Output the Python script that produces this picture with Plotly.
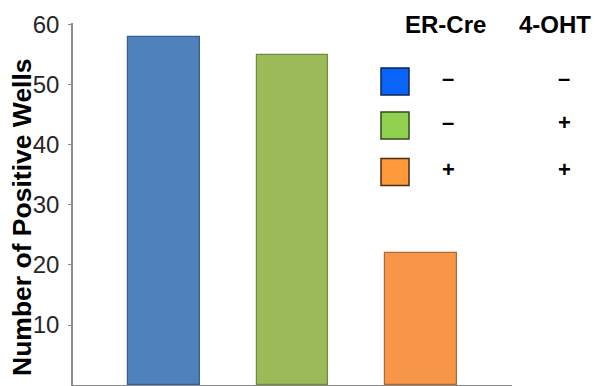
import plotly.graph_objects as go

# Wells scored positive per condition
conditions = [0, 1, 2]
wells = [58, 55, 22]
er_cre = ["–", "–", "+"]
oht = ["–", "+", "+"]

bar_fill = ["#4F81BD", "#9BBB59", "#F79646"]
bar_edge = ["#3A5F8C", "#6F8A3C", "#A86A38"]
key_fill = ["#0A64FA", "#92D050", "#FF9A3A"]
key_edge = ["#10254F", "#2E4A1E", "#4A2A14"]

y_ticks = [10, 20, 30, 40, 50, 60]
y_title = "Number of Positive Wells"

W, H = 595, 386
L, R, T, B = 73, 83, 23, 1
pw, ph = W - L - R, H - T - B

fig = go.Figure()
fig.add_trace(go.Bar(
    x=conditions, y=wells, width=0.56,
    marker=dict(color=bar_fill, line=dict(color=bar_edge, width=1.2)),
    showlegend=False,
))

fig.update_layout(
    width=W, height=H,
    margin=dict(l=L, r=R, t=T, b=B, autoexpand=False),
    paper_bgcolor="white", plot_bgcolor="white",
    bargap=0,
    xaxis=dict(range=[-0.708, 2.708], showticklabels=False, ticks="",
               showgrid=False, zeroline=False, showline=True,
               linecolor="#8C8C8C", linewidth=1.5),
    yaxis=dict(range=[0, 60.33], tickvals=y_ticks, ticks="outside", ticklen=3,
               tickcolor="#8C8C8C", showgrid=False, zeroline=False,
               showline=True, linecolor="#8C8C8C", linewidth=1.5,
               tickfont=dict(family="Liberation Sans, Arial", size=24, color="#262626"),
               ticklabelstandoff=4, automargin=False),
)


# Paper coordinates from pixel positions in the canvas
def px(xp):
    return (xp - L) / pw


def py(yp):
    return (H - B - yp) / ph


def label(xp, yp, text, size, angle=0):
    fig.add_annotation(x=px(xp), y=py(yp), xref="paper", yref="paper",
                       xanchor="center", yanchor="middle", text=text,
                       textangle=angle, showarrow=False,
                       font=dict(family="Liberation Sans, Arial", size=size, color="#000000"))


# Rotated y-axis title
label(22, 217, "<b>%s</b>" % y_title, 26.5, angle=-90)

# Condition key: header row, then one swatch with its +/- signs per bar
label(445, 25, "<b>ER-Cre</b>", 24)
label(555, 25, "<b>4-OHT</b>", 24)

key_rows_y = [81.5, 125.5, 172]
for i, yc in enumerate(key_rows_y):
    fig.add_shape(type="rect", xref="paper", yref="paper",
                  x0=px(381), x1=px(409), y0=py(yc - 13.5), y1=py(yc + 13.5),
                  fillcolor=key_fill[i], line=dict(color=key_edge[i], width=1.5))
    label(448, yc - 3, "<b>%s</b>" % er_cre[i], 22)
    label(564, yc - 3, "<b>%s</b>" % oht[i], 22)

fig.write_html("out.html")
